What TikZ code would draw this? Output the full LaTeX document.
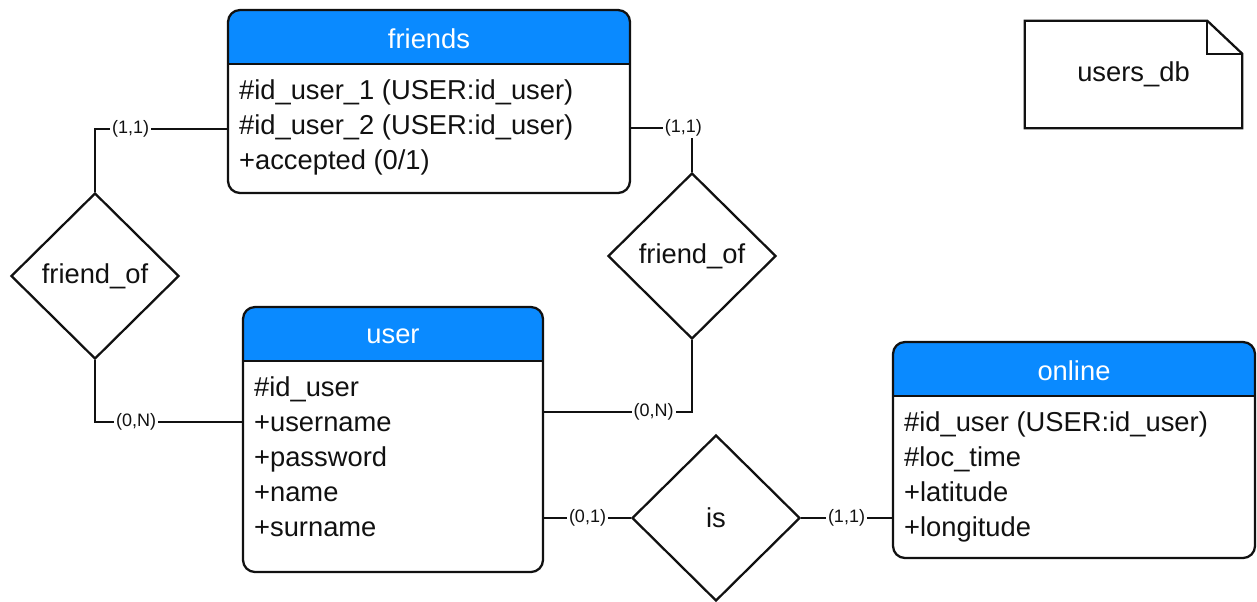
\documentclass[tikz,border=0pt]{standalone}
\usepackage{fontspec}
\setmainfont{Liberation Sans}
\usetikzlibrary{positioning,calc,shapes.geometric}
\definecolor{HeadBlue}{HTML}{0A8AFF}
\definecolor{Ink}{HTML}{111111}

\begin{document}
\begin{tikzpicture}[x=0.75pt, y=-0.75pt,
  every node/.style={font=\fontsize{20.5}{26.25}\selectfont},
  entity/.style={draw=Ink, line width=1.7pt, rounded corners=9pt, inner sep=0pt,
    path picture={\fill[HeadBlue, sharp corners] (path picture bounding box.north west) rectangle ([yshift=-40.5pt]path picture bounding box.north east);
      \draw[Ink, line width=1.6pt, sharp corners] ([yshift=-40.5pt]path picture bounding box.north west) -- ([yshift=-40.5pt]path picture bounding box.north east);}},
  title/.style={text=white},
  attrs/.style={align=left, anchor=north west, inner sep=0pt, text=Ink},
  rel/.style={diamond, draw=Ink, line width=1.7pt, inner sep=0pt, minimum width=126pt, minimum height=124.5pt, text=Ink},
  card/.style={font=\fontsize{13.5}{16}\selectfont, fill=white, inner sep=1.5pt, text=Ink},
  conn/.style={draw=Ink, line width=1.1pt}]
\useasboundingbox (0,0) rectangle (1257,601);

% entities
\node[entity, minimum width=301.5pt, minimum height=137.25pt] (friends) at (429,101.5) {};
\node[title] (friendsT) at ($(friends.north)+(0,30)$) {friends};
\node[attrs] (friendsA) at ($(friends.north west)+(12,71)$) {\#id\_user\_1 (USER:id\_user)\\\#id\_user\_2 (USER:id\_user)\\+accepted (0/1)};

\node[entity, minimum width=225pt, minimum height=198.75pt] (user) at (393,439.5) {};
\node[title] (userT) at ($(user.north)+(0,30)$) {user};
\node[attrs] (userA) at ($(user.north west)+(12,71)$) {\#id\_user\\+username\\+password\\+name\\+surname};

\node[entity, minimum width=271.5pt, minimum height=162pt] (online) at (1074,450) {};
\node[title] (onlineT) at ($(online.north)+(0,30)$) {online};
\node[attrs] (onlineA) at ($(online.north west)+(12,71)$) {\#id\_user (USER:id\_user)\\\#loc\_time\\+latitude\\+longitude};

% relations
\node[rel] (lfo) at (95,276) {friend\_of};
\node[rel] (rfo) at (692,256) {friend\_of};
\node[rel] (is) at (716,518) {is};

% database note
\node[minimum width=162.75pt, minimum height=80.25pt, inner sep=0pt, text=Ink] (db) at (1133.5,74.5) {users\_db};
\draw[Ink, line width=1.7pt, line join=miter] (db.north west) -- ($(db.north east)+(-35,0)$) -- ($(db.north east)+(0,33)$) -- (db.south east) -- (db.south west) -- cycle;
\draw[Ink, line width=1.7pt] ($(db.north east)+(-35,0)$) |- ($(db.north east)+(0,33)$);

% connectors
\draw[conn] (lfo.north) |- node[card, pos=.635] (c1) {(1,1)} ($(friends.west)+(0,27.5)$);
\draw[conn] (lfo.south) |- node[card, pos=.64] (c2) {(0,N)} ($(user.west)+(0,-17.5)$);
\draw[conn] ($(friends.east)+(0,26.5)$) -| node[card, pos=.43] (c3) {(1,1)} (rfo.north);
\draw[conn] (rfo.south) |- node[card, pos=.63] (c4) {(0,N)} ($(user.east)+(0,-27.5)$);
\draw[conn] (is.west -| user.east) -- node[card] (c5) {(0,1)} (is.west);
\draw[conn] (is.east) -- node[card] (c6) {(1,1)} (is.east -| online.west);
\end{tikzpicture}
\end{document}
